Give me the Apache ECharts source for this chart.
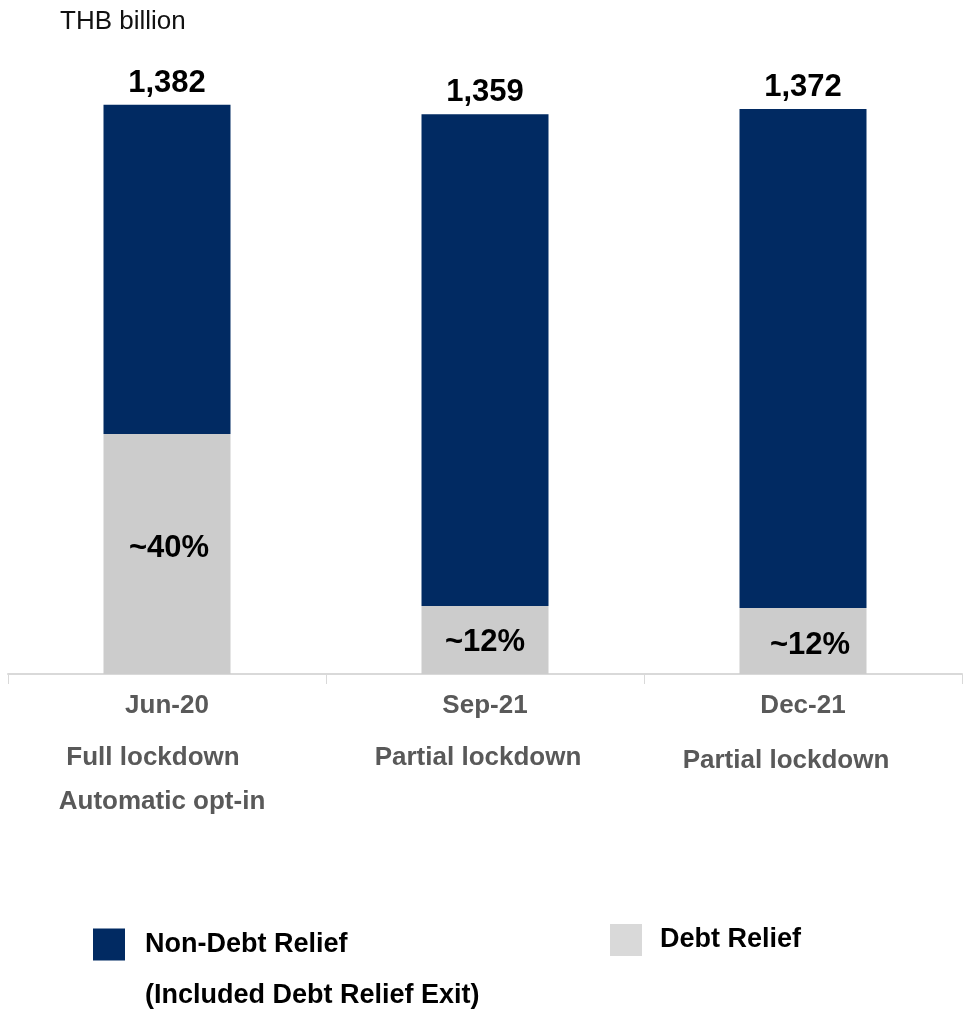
<!DOCTYPE html>
<html>
<head>
<meta charset="utf-8">
<script src="https://cdn.jsdelivr.net/npm/echarts@6/dist/echarts.min.js"></script>
<style>html,body{margin:0;padding:0;background:#fff}#c{width:966px;height:1009px}</style>
</head>
<body>
<div id="c"></div>
<script>
const categories = ['Jun-20', 'Sep-21', 'Dec-21'];
const subLine1 = ['Full lockdown', 'Partial lockdown', 'Partial lockdown'];
const subLine2 = ['Automatic opt-in', '', ''];
const totals = [1382, 1359, 1372];
const debtRelief = [583, 165, 160];
const nonDebtRelief = [799, 1194, 1212];
const debtShareLabels = ['~40%', '~12%', '~12%'];
const unitLabel = 'THB billion';
const seriesNames = ['Non-Debt Relief', 'Debt Relief'];
const nonDebtNote = '(Included Debt Relief Exit)';

const FONT = "'Liberation Sans', Arial, sans-serif";
const NAVY = '#012A62';
const GREY = '#CCCCCC';
const pctOffsets = [[2, -5], [0, 2], [7, 4]];
const sub1Pad = [[0, 28, 0, 0], [0, 14, 0, 0], [0, 34, 0, 0]];

const chart = echarts.init(document.getElementById('c'), null, {renderer: 'canvas'});

const rich = {
  a: {fontFamily: FONT, fontSize: 26, fontWeight: 'bold', color: '#595959', lineHeight: 40},
  c: {fontFamily: FONT, fontSize: 26, fontWeight: 'bold', color: '#595959', lineHeight: 24, padding: [0, 10, 0, 0]}
};
categories.forEach((c, i) => {
  rich['b' + i] = {fontFamily: FONT, fontSize: 26, fontWeight: 'bold', color: '#595959',
    lineHeight: i === 2 ? 70 : 64, padding: sub1Pad[i]};
});

chart.setOption({
  animation: false,
  backgroundColor: '#fff',
  title: {
    text: unitLabel, left: 55, top: 4,
    textStyle: {fontFamily: FONT, fontSize: 26, fontWeight: 'normal', color: '#111'}
  },
  grid: {left: 8, right: 4, top: 15, bottom: 335, containLabel: false},
  legend: [
    {
      data: [{name: seriesNames[0], itemStyle: {color: NAVY}}],
      left: 93, top: 880, padding: 0,
      icon: 'rect',
      itemWidth: 32, itemHeight: 32,
      formatter: () => '{s| }\n{s|' + seriesNames[0] + '}\n{s|' + nonDebtNote + '}',
      textStyle: {
        padding: [0, 0, 0, 15],
        rich: {s: {fontFamily: FONT, fontSize: 27, fontWeight: 'bold', color: '#000', lineHeight: 51}}
      },
      selectedMode: false
    },
    {
      data: [{name: seriesNames[1], itemStyle: {color: '#D9D9D9'}}],
      left: 610, top: 924, padding: 0,
      icon: 'rect',
      itemWidth: 32, itemHeight: 32,
      textStyle: {fontFamily: FONT, fontSize: 27, fontWeight: 'bold', color: '#000', padding: [4, 0, 0, 13]},
      selectedMode: false
    }
  ],
  xAxis: {
    type: 'category',
    data: categories,
    axisLine: {lineStyle: {color: '#D9D9D9', width: 2}},
    axisTick: {show: true, length: 10, lineStyle: {color: '#D9D9D9', width: 1}},
    axisLabel: {
      margin: 12,
      interval: 0,
      formatter: (v, i) => {
        let s = '{a|' + v + '}\n{b' + i + '|' + subLine1[i] + '}';
        if (subLine2[i]) s += '\n{c|' + subLine2[i] + '}';
        return s;
      },
      rich: rich
    }
  },
  yAxis: {type: 'value', min: 0, max: 1600, show: false, splitLine: {show: false}},
  series: [
    {
      name: seriesNames[1],
      type: 'bar',
      stack: 'total',
      barWidth: 127,
      itemStyle: {color: GREY},
      data: debtRelief.map((v, i) => ({
        value: v,
        label: {offset: pctOffsets[i]}
      })),
      label: {
        show: true, position: 'inside',
        formatter: p => debtShareLabels[p.dataIndex],
        fontFamily: FONT, fontSize: 31, fontWeight: 'bold', color: '#000'
      }
    },
    {
      name: seriesNames[0],
      type: 'bar',
      stack: 'total',
      barWidth: 127,
      itemStyle: {color: NAVY},
      data: nonDebtRelief,
      label: {
        show: true, position: 'top', distance: 6,
        formatter: p => totals[p.dataIndex].toLocaleString('en-US'),
        fontFamily: FONT, fontSize: 31, fontWeight: 'bold', color: '#000'
      }
    }
  ]
});
</script>
</body>
</html>
